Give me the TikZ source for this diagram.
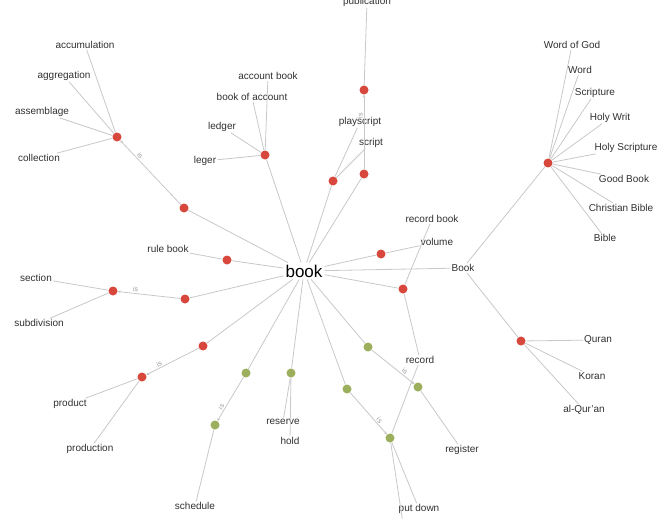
\documentclass[tikz,border=0pt]{standalone}
\usepackage{fontspec}
\setmainfont{Liberation Sans}
\usetikzlibrary{arrows.meta}
\definecolor{dotRed}{HTML}{D8473B}
\definecolor{dotGreen}{HTML}{9BAF5C}
\definecolor{edgeGray}{HTML}{C8C8C8}
\definecolor{textGray}{HTML}{303030}
\tikzset{
  sense/.style={circle, fill=dotRed, minimum size=9pt, inner sep=0pt},
  vsense/.style={sense, fill=dotGreen},
  word/.style={font=\fontsize{10}{12}\selectfont, text=textGray, inner sep=1pt},
  hub/.style={font=\fontsize{17}{20}\selectfont, text=black, inner sep=2pt},
  link/.style={draw=edgeGray, line width=0.8pt},
  islink/.style={link, -{Stealth[length=3pt, width=3pt]}},
  islabel/.style={font=\fontsize{7}{8}\selectfont, text=black!40, sloped, above, pos=0.72, inner sep=1pt},
}

\begin{document}
\begin{tikzpicture}[x=1pt, y=-1pt]
\useasboundingbox (0,0) rectangle (659,519);
%% Hub
\node[hub] (book) at (304,271) {book};
%% Sense dots
\node[sense] (sColl)  at (117,137) {};
\node[sense] (sBody)  at (184,208) {};
\node[sense] (sLedg)  at (265,155) {};
\node[sense] (sPlay)  at (333,181) {};
\node[sense] (sWork)  at (364,174) {};
\node[sense] (sPubl)  at (364,90)  {};
\node[sense] (sVol)   at (381,254) {};
\node[sense] (sRec)   at (403,289) {};
\node[sense] (sBible) at (548,163) {};
\node[sense] (sQuran) at (521,341) {};
\node[sense] (sRule)  at (227,260) {};
\node[sense] (sPart)  at (185,299) {};
\node[sense] (sSect)  at (113,291) {};
\node[sense] (sProd)  at (203,346) {};
\node[sense] (sProdn) at (142,377) {};
\node[vsense] (vBook)  at (246,373) {};
\node[vsense] (vSched) at (215,425) {};
\node[vsense] (vHold)  at (291,373) {};
\node[vsense] (vEnter) at (347,389) {};
\node[vsense] (vRec)   at (390,438) {};
\node[vsense] (vReg)   at (368,347) {};
\node[vsense] (vRegr)  at (418,387) {};
%% Words
\node[word] (wAccu)  at (85,45)   {accumulation};
\node[word] (wAggr)  at (64,76)   {aggregation};
\node[word] (wAsse)  at (42,112)  {assemblage};
\node[word] (wColl)  at (39,158)  {collection};
\node[word] (wAccb)  at (268,76)  {account book};
\node[word] (wBoac)  at (252,97)  {book of account};
\node[word] (wLedg)  at (222,127) {ledger};
\node[word] (wLege)  at (205,161) {leger};
\node[word] (wPubl)  at (367,2)   {publication};
\node[word] (wPlay)  at (360,122) {playscript};
\node[word] (wScri)  at (371,143) {script};
\node[word] (wWog)   at (572,45)  {Word of God};
\node[word] (wWord)  at (580,70)  {Word};
\node[word] (wScrp)  at (595,93)  {Scripture};
\node[word] (wHwr)   at (610,118) {Holy Writ};
\node[word] (wHsc)   at (626,148) {Holy Scripture};
\node[word] (wGood)  at (624,179) {Good Book};
\node[word] (wChr)   at (621,208) {Christian Bible};
\node[word] (wBibl)  at (605,238) {Bible};
\node[word] (wRecb)  at (432,219) {record book};
\node[word] (wVol)   at (437,242) {volume};
\node[word] (wBook)  at (463,268) {Book};
\node[word] (wRule)  at (168,249) {rule book};
\node[word] (wSect)  at (36,278)  {section};
\node[word] (wSubd)  at (39,323)  {subdivision};
\node[word] (wProd)  at (70,404)  {product};
\node[word] (wPron)  at (90,449)  {production};
\node[word] (wRec)   at (420,360) {record};
\node[word] (wQur)   at (598,340) {Quran};
\node[word] (wKor)   at (592,376) {Koran};
\node[word] (wAlq)   at (584,410) {al-Qur'an};
\node[word] (wRes)   at (283,422) {reserve};
\node[word] (wHold)  at (290,441) {hold};
\node[word] (wSched) at (195,506) {schedule};
\node[word] (wReg)   at (462,450) {register};
\node[word] (wPut)   at (419,509) {put down};
\coordinate (offEnter) at (404,530);
%% Edges from the hub
\foreach \s in {sBody,sLedg,sPlay,sWork,sVol,sRec,sRule,sPart,sProd,vBook,vHold,vEnter,vReg,wBook}
  \draw[link] (book) -- (\s);
%% Hypernym edges
\draw[islink] (sBody) -- node[islabel] {is} (sColl);
\draw[islink] (sWork) -- node[islabel] {is} (sPubl);
\draw[islink] (sPart) -- node[islabel] {is} (sSect);
\draw[islink] (sProd) -- node[islabel] {is} (sProdn);
\draw[islink] (vBook) -- node[islabel] {is} (vSched);
\draw[islink] (vEnter) -- node[islabel] {is} (vRec);
\draw[islink] (vReg) -- node[islabel] {is} (vRegr);
%% Synonym edges
\foreach \w in {wAccu,wAggr,wAsse,wColl} \draw[link] (sColl) -- (\w);
\foreach \w in {wAccb,wBoac,wLedg,wLege} \draw[link] (sLedg) -- (\w);
\foreach \w in {wPlay,wScri} \draw[link] (sPlay) -- (\w);
\draw[link] (sPubl) -- (wPubl);
\draw[link] (sVol) -- (wVol);
\foreach \w in {wRecb,wRec} \draw[link] (sRec) -- (\w);
\foreach \s in {sBible,sQuran} \draw[link] (wBook) -- (\s);
\foreach \w in {wWog,wWord,wScrp,wHwr,wHsc,wGood,wChr,wBibl} \draw[link] (sBible) -- (\w);
\foreach \w in {wQur,wKor,wAlq} \draw[link] (sQuran) -- (\w);
\draw[link] (sRule) -- (wRule);
\foreach \w in {wSect,wSubd} \draw[link] (sSect) -- (\w);
\foreach \w in {wProd,wPron} \draw[link] (sProdn) -- (\w);
\draw[link] (vSched) -- (wSched);
\foreach \w in {wRes,wHold} \draw[link] (vHold) -- (\w);
\foreach \w in {wRec,wPut,offEnter} \draw[link] (vRec) -- (\w);
\draw[link] (vRegr) -- (wReg);
\end{tikzpicture}
\end{document}
